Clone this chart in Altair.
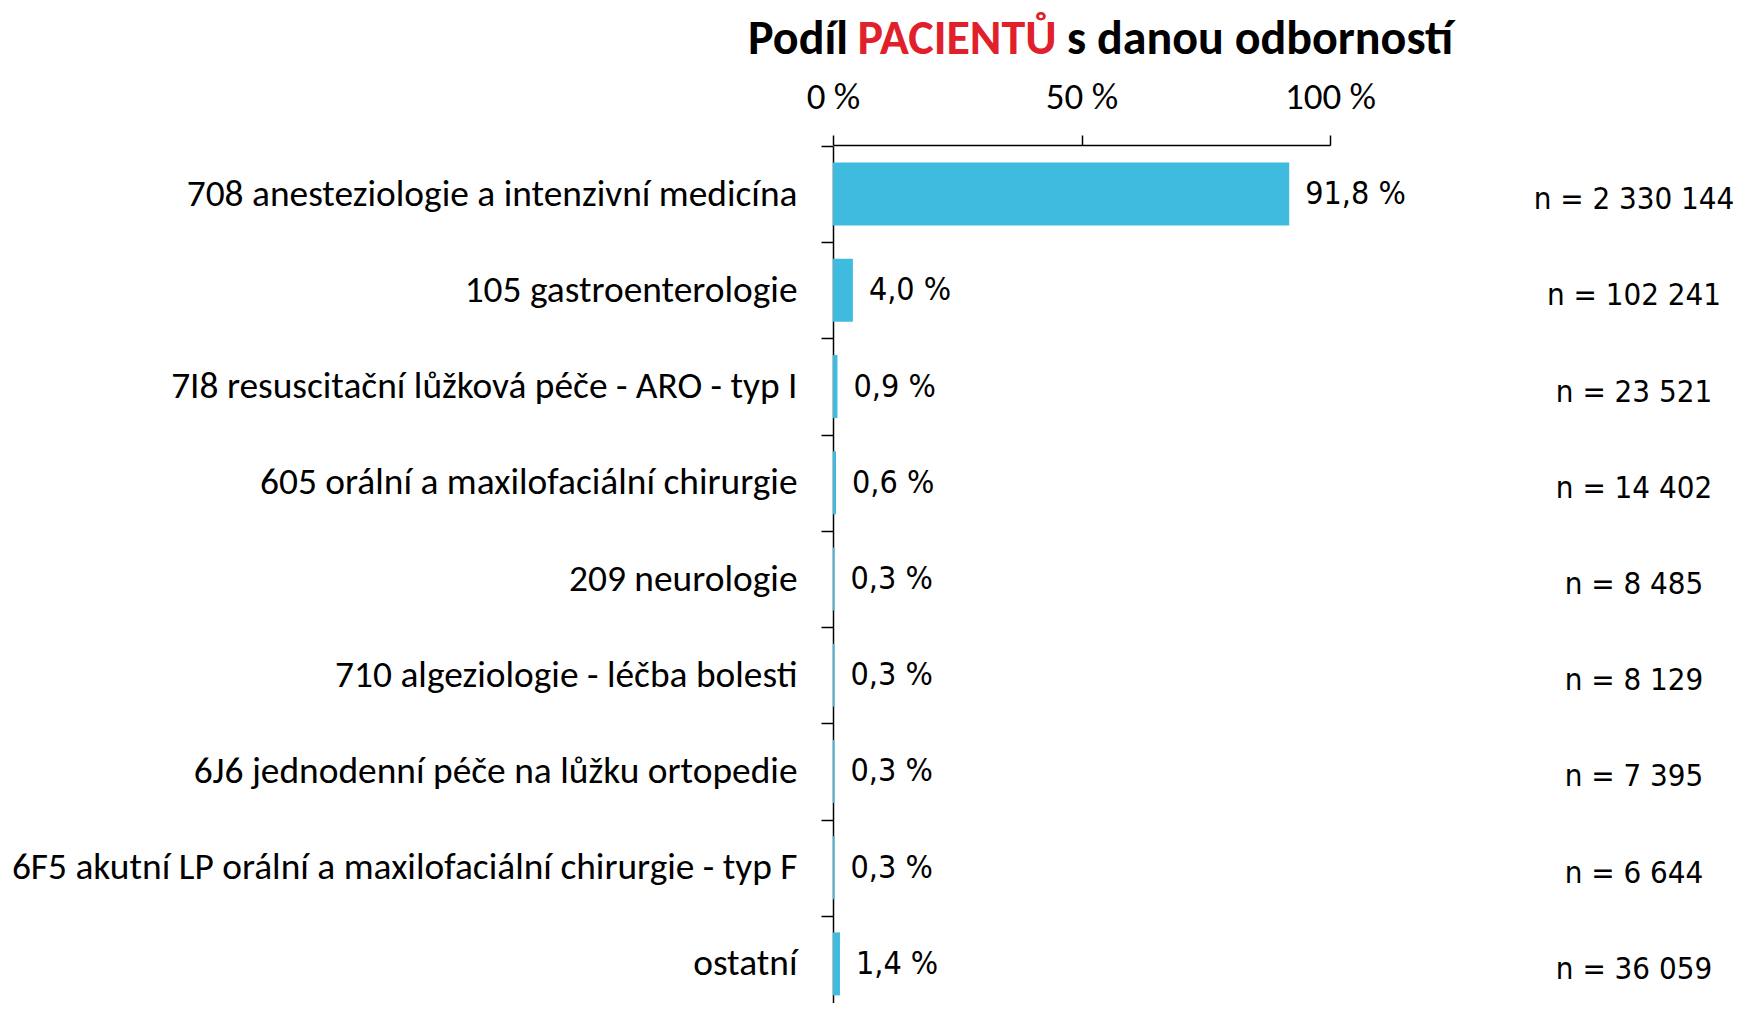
import altair as alt
import pandas as pd

categories = [
    "708 anesteziologie a intenzivní medicína",
    "105 gastroenterologie",
    "7I8 resuscitační lůžková péče - ARO - typ I",
    "605 orální a maxilofaciální chirurgie",
    "209 neurologie",
    "710 algeziologie - léčba bolesti",
    "6J6 jednodenní péče na lůžku ortopedie",
    "6F5 akutní LP orální a maxilofaciální chirurgie - typ F",
    "ostatní",
]
pct = [91.8, 4.0, 0.9, 0.6, 0.3, 0.3, 0.3, 0.3, 1.4]
counts = [2330144, 102241, 23521, 14402, 8485, 8129, 7395, 6644, 36059]
x_ticks = [0, 50, 100]
title_parts = ["Podíl", "PACIENTŮ", "s danou odborností"]

df = pd.DataFrame({"cat": categories, "pct": pct, "n": counts})
df["pct_label"] = [f"{v:.1f}".replace(".", ",") + " %" for v in pct]
df["n_label"] = ["n = " + f"{v:,}".replace(",", " ") for v in counts]

LABEL_FONT = "Carlito, Lato, sans-serif"
NARROW_FONT = "'Liberation Sans Narrow', 'DejaVu Sans Condensed', sans-serif"
BAR_COLOR = "#3EBBDF"

y_enc = alt.Y(
    "cat:N",
    sort=categories,
    scale=alt.Scale(range=[1, 867], paddingInner=0, paddingOuter=0),
    axis=alt.Axis(
        title=None,
        labelFont=LABEL_FONT,
        labelFontSize=37.4,
        labelColor="black",
        labelLimit=1200,
        labelPadding=24,
        tickSize=12,
        tickColor="black",
        tickWidth=1.5,
        tickBand="extent",
        domainColor="black",
        domainWidth=1.5,
    ),
)

x_enc = alt.X(
    "pct:Q",
    scale=alt.Scale(domain=[0, 100], nice=False),
    axis=alt.Axis(
        orient="top",
        title=None,
        values=x_ticks,
        labelExpr="datum.value + ' %'",
        labelFont=LABEL_FONT,
        labelFontSize=37,
        labelColor="black",
        labelPadding=19,
        labelFlush=False,
        tickSize=10,
        tickColor="black",
        tickWidth=1.5,
        domainColor="black",
        domainWidth=1.5,
        grid=False,
    ),
)

base = alt.Chart(df)

bars = base.mark_bar(color=BAR_COLOR, height={"band": 0.655}).encode(x=x_enc, y=y_enc)

pct_text = base.mark_text(
    align="left", baseline="middle", dx=16, font=NARROW_FONT, fontSize=32, color="black"
).encode(x="pct:Q", y=alt.Y("cat:N", sort=categories), text="pct_label:N")

n_text = base.mark_text(
    align="center", baseline="middle", dy=6, font=NARROW_FONT, fontSize=31, color="black"
).encode(x=alt.value(801), y=alt.Y("cat:N", sort=categories), text="n_label:N")

tdf1 = pd.DataFrame({"t": [title_parts[0]]})
tdf2 = pd.DataFrame({"t": [title_parts[1]]})
tdf3 = pd.DataFrame({"t": [title_parts[2]]})
TFONT = LABEL_FONT
t1 = alt.Chart(tdf1).mark_text(
    align="right", baseline="middle", font=TFONT, fontSize=48, fontWeight="bold", color="black"
).encode(x=alt.value(15), y=alt.value(-105), text="t:N")
t2 = alt.Chart(tdf2).mark_text(
    align="center", baseline="middle", font=TFONT, fontSize=48, fontWeight="bold", color="#E0202A"
).encode(x=alt.value(124), y=alt.value(-105), text="t:N")
t3 = alt.Chart(tdf3).mark_text(
    align="left", baseline="middle", font=TFONT, fontSize=48, fontWeight="bold", color="black"
).encode(x=alt.value(234), y=alt.value(-105), text="t:N")

chart = (
    alt.layer(bars, pct_text, n_text, t1, t2, t3)
    .properties(
        width=497,
        height=858,
        autosize=alt.AutoSizeParams(type="none"),
        padding={"left": 825, "top": 137, "right": 406, "bottom": 0},
    )
    .configure_view(stroke=None)
)

chart.save("out.html", embed_options={"renderer": "svg", "actions": False})
